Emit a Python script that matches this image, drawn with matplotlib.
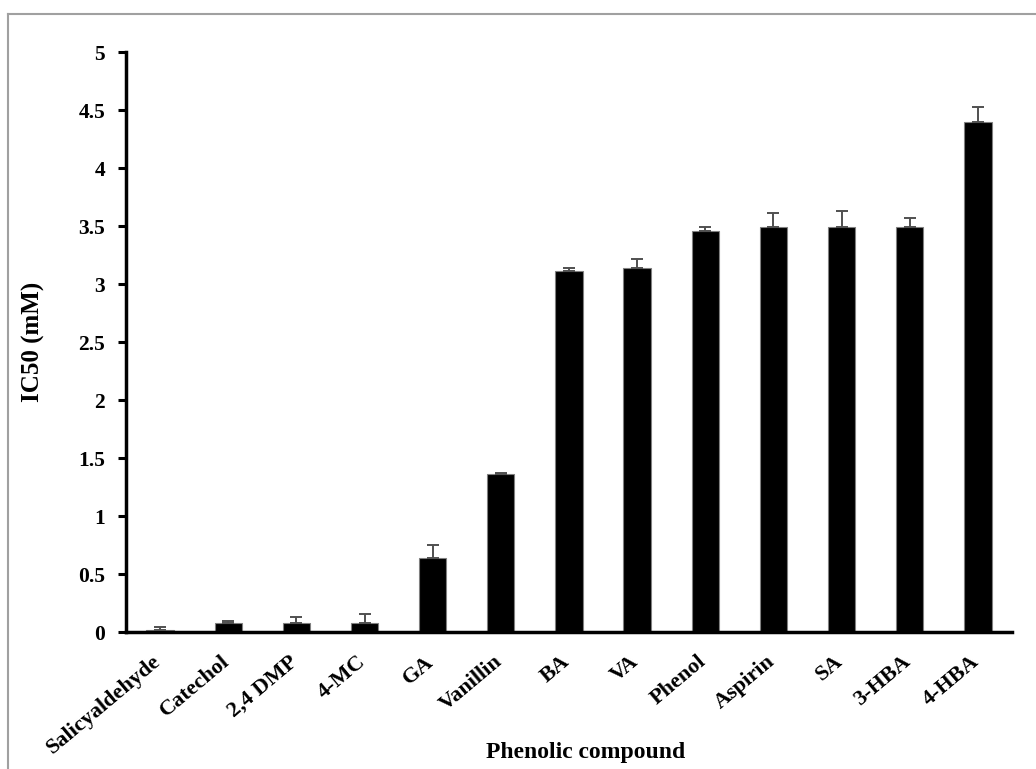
import matplotlib.pyplot as plt
import numpy as np
from matplotlib.lines import Line2D
from matplotlib.transforms import ScaledTranslation

# IC50 of phenolic compounds
compounds = ['Salicyaldehyde', 'Catechol', '2,4 DMP', '4-MC', 'GA', 'Vanillin',
             'BA', 'VA', 'Phenol', 'Aspirin', 'SA', '3-HBA', '4-HBA']
ic50 = [0.02, 0.08, 0.08, 0.08, 0.64, 1.36, 3.11, 3.14, 3.46, 3.49, 3.49, 3.49, 4.40]
err = [0.02, 0.02, 0.05, 0.08, 0.11, 0.01, 0.03, 0.08, 0.03, 0.12, 0.14, 0.08, 0.13]
yticks = [0, 0.5, 1, 1.5, 2, 2.5, 3, 3.5, 4, 4.5, 5]

plt.rcParams['font.family'] = ['Liberation Serif', 'DejaVu Serif']
plt.rcParams['font.weight'] = 'bold'

fig = plt.figure(figsize=(10.36, 7.69), dpi=100)
ax = fig.add_axes([0.1216, 0.178, 0.8552, 0.754])

x = np.arange(len(compounds))
ax.bar(x, ic50, width=0.4, color='black', edgecolor='#808080', linewidth=0.8,
       zorder=2)
ax.errorbar(x, ic50, yerr=[np.zeros(len(err)), err], fmt='none',
            ecolor='#505050', elinewidth=1.4, capsize=4.3, capthick=1.4, zorder=3)

ax.set_xlim(-0.5, len(compounds) - 0.5)
ax.set_ylim(0, 5)
ax.set_yticks(yticks)
ax.set_yticklabels([f'{t:g}' for t in yticks], fontsize=15.5, fontweight='bold')
ax.set_xticks(x)
ax.set_xticklabels(compounds, rotation=40, ha='right', va='top',
                   fontsize=16, fontweight='bold')
ax.tick_params(axis='x', length=0, pad=14)
ax.tick_params(axis='y', length=6, width=2.2, direction='out', pad=9)

# nudge the slanted labels a little to the right
shift = ScaledTranslation(5 / 100, 0, fig.dpi_scale_trans)
for lab in ax.get_xticklabels():
    lab.set_transform(lab.get_transform() + shift)

for s in ['top', 'right']:
    ax.spines[s].set_visible(False)
ax.spines['left'].set_linewidth(2.5)
ax.spines['bottom'].set_linewidth(2.5)

ax.set_ylabel('IC50 (mM)', fontsize=18, fontweight='bold')
ax.yaxis.set_label_coords(-0.0915, 0.5)
fig.text(0.565, 0.022, 'Phenolic compound', ha='center', va='center',
         fontsize=17, fontweight='bold')

# gray outline around the figure
fig.add_artist(Line2D([8 / 1036, 1.0], [1 - 14 / 769, 1 - 14 / 769],
                      transform=fig.transFigure, color='#a0a0a0', lw=1.5))
fig.add_artist(Line2D([8 / 1036, 8 / 1036], [0, 1 - 14 / 769],
                      transform=fig.transFigure, color='#a0a0a0', lw=1.5))

fig.savefig('out.png', dpi=100)
